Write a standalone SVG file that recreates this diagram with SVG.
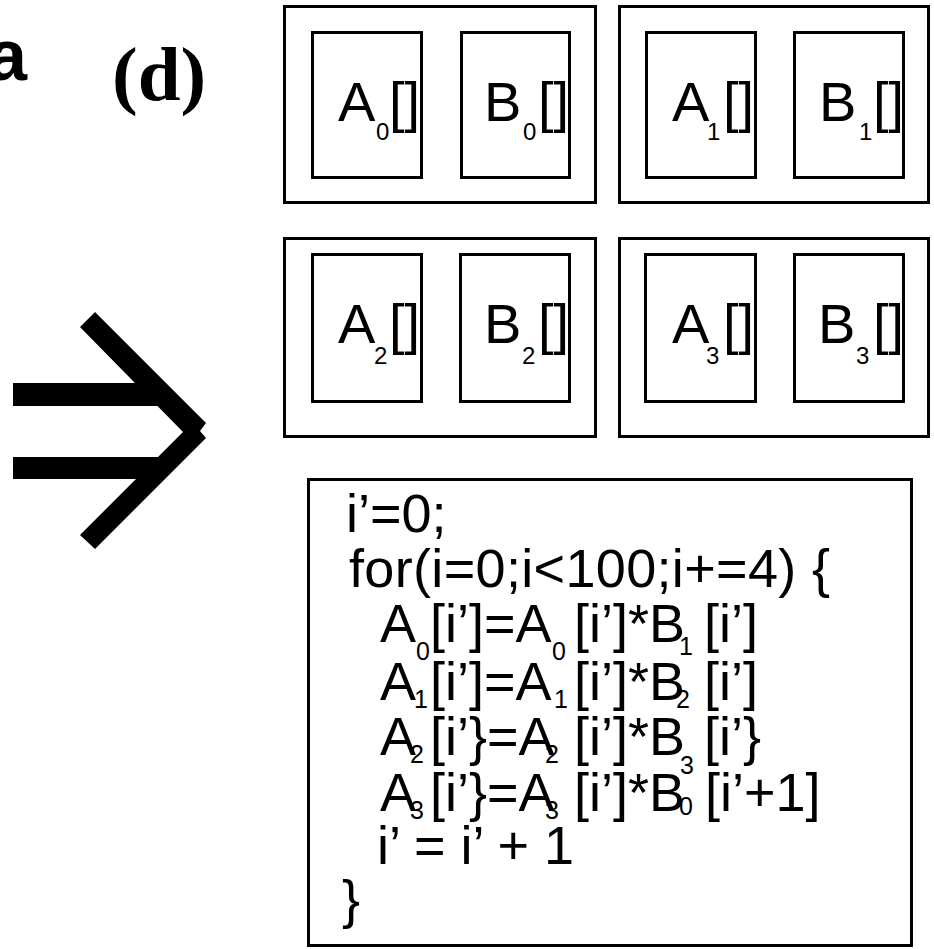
<svg xmlns="http://www.w3.org/2000/svg" width="934" height="949" viewBox="0 0 934 949">
  <style>
    .box { fill: none; stroke: #000; stroke-width: 3; }
    .tag-a { font-family: "Liberation Sans", Arial, sans-serif; font-weight: bold; font-size: 72px; fill: #000; }
    .tag-d { font-family: "Liberation Serif", "Times New Roman", serif; font-weight: bold; font-size: 77px; fill: #000; }
    .lbl { font-family: "Liberation Sans", Arial, sans-serif; font-size: 56px; fill: #000; }
    .lsub { font-size: 24px; }
    .code { font-family: "Liberation Sans", Arial, sans-serif; font-size: 54px; fill: #000; }
    .csub { font-size: 25px; }
  </style>
  <rect width="934" height="949" fill="#fff"/>

  <!-- panel tags -->
  <g id="tags">
    <text class="tag-a" x="-13" y="80">a</text>
    <text class="tag-d" x="112" y="100">(d)</text>
  </g>

  <!-- double-shafted transformation arrow -->
  <g id="arrow" fill="#000">
    <rect x="13" y="383" width="147" height="23"/>
    <rect x="13" y="457" width="147" height="22"/>
    <path d="M80,327 L95,312 L206,423 L200,431 L206,438 L95,549 L80,535 L183,432 Z"/>
  </g>

  <!-- bank 0 -->
  <g id="bank0">
    <rect class="box" x="284.5" y="6.5" width="311" height="196"/>
    <g id="A0">
      <rect class="box" x="312.5" y="32.5" width="109" height="145"/>
      <text class="lbl"><tspan x="338" y="121">A</tspan><tspan class="lsub" x="376" y="140">0</tspan><tspan x="389" y="121">[]</tspan></text>
    </g>
    <g id="B0">
      <rect class="box" x="461.5" y="32.5" width="108" height="145"/>
      <text class="lbl"><tspan x="484" y="121">B</tspan><tspan class="lsub" x="523" y="140">0</tspan><tspan x="538" y="121">[]</tspan></text>
    </g>
  </g>

  <!-- bank 1 -->
  <g id="bank1">
    <rect class="box" x="619.5" y="6.5" width="309" height="196"/>
    <g id="A1">
      <rect class="box" x="646.5" y="32.5" width="109" height="145"/>
      <text class="lbl"><tspan x="672" y="121">A</tspan><tspan class="lsub" x="707" y="140">1</tspan><tspan x="723" y="121">[]</tspan></text>
    </g>
    <g id="B1">
      <rect class="box" x="794.5" y="32.5" width="109" height="145"/>
      <text class="lbl"><tspan x="819" y="121">B</tspan><tspan class="lsub" x="859" y="140">1</tspan><tspan x="873" y="121">[]</tspan></text>
    </g>
  </g>

  <!-- bank 2 -->
  <g id="bank2">
    <rect class="box" x="284.5" y="238.5" width="311" height="198"/>
    <g id="A2">
      <rect class="box" x="312.5" y="254.5" width="109" height="147"/>
      <text class="lbl"><tspan x="338" y="343">A</tspan><tspan class="lsub" x="374" y="364">2</tspan><tspan x="389" y="343">[]</tspan></text>
    </g>
    <g id="B2">
      <rect class="box" x="460.5" y="254.5" width="109" height="147"/>
      <text class="lbl"><tspan x="484" y="343">B</tspan><tspan class="lsub" x="522" y="364">2</tspan><tspan x="538" y="343">[]</tspan></text>
    </g>
  </g>

  <!-- bank 3 -->
  <g id="bank3">
    <rect class="box" x="619.5" y="238.5" width="309" height="198"/>
    <g id="A3">
      <rect class="box" x="645.5" y="254.5" width="110" height="147"/>
      <text class="lbl"><tspan x="672" y="343">A</tspan><tspan class="lsub" x="706" y="364">3</tspan><tspan x="723" y="343">[]</tspan></text>
    </g>
    <g id="B3">
      <rect class="box" x="794.5" y="254.5" width="109" height="147"/>
      <text class="lbl"><tspan x="818" y="343">B</tspan><tspan class="lsub" x="856" y="364">3</tspan><tspan x="873" y="343">[]</tspan></text>
    </g>
  </g>

  <!-- unrolled loop code -->
  <g id="code">
    <rect class="box" x="308.5" y="479.5" width="603" height="466"/>
    <text class="code" x="346" y="532">i’=0;</text>
    <text class="code" x="349" y="587" textLength="481" lengthAdjust="spacing">for(i=0;i&lt;100;i+=4) {</text>

    <text class="code"><tspan x="380" y="642">A</tspan><tspan class="csub" x="416" y="660">0</tspan><tspan x="430" y="642">[i’]=A</tspan><tspan class="csub" x="552" y="660">0</tspan><tspan x="574" y="642">[i’]*B</tspan><tspan class="csub" x="679" y="655">1</tspan><tspan x="704" y="642">[i’]</tspan></text>

    <text class="code"><tspan x="380" y="700">A</tspan><tspan class="csub" x="414" y="708">1</tspan><tspan x="430" y="700">[i’]=A</tspan><tspan class="csub" x="554" y="708">1</tspan><tspan x="574" y="700">[i’]*B</tspan><tspan class="csub" x="676" y="708">2</tspan><tspan x="704" y="700">[i’]</tspan></text>

    <text class="code"><tspan x="380" y="755">A</tspan><tspan class="csub" x="410" y="763">2</tspan><tspan x="430" y="755">[i’}=A</tspan><tspan class="csub" x="545" y="763">2</tspan><tspan x="574" y="755">[i’]*B</tspan><tspan class="csub" x="680" y="774">3</tspan><tspan x="704" y="755">[i’}</tspan></text>

    <text class="code"><tspan x="380" y="811">A</tspan><tspan class="csub" x="410" y="819">3</tspan><tspan x="430" y="811">[i’}=A</tspan><tspan class="csub" x="545" y="819">3</tspan><tspan x="574" y="811">[i’]*B</tspan><tspan class="csub" x="679" y="815">0</tspan><tspan x="705" y="811">[i’+1]</tspan></text>

    <text class="code" x="377" y="864">i’ = i’ + 1</text>
    <text class="code" x="342" y="918">}</text>
  </g>
</svg>
